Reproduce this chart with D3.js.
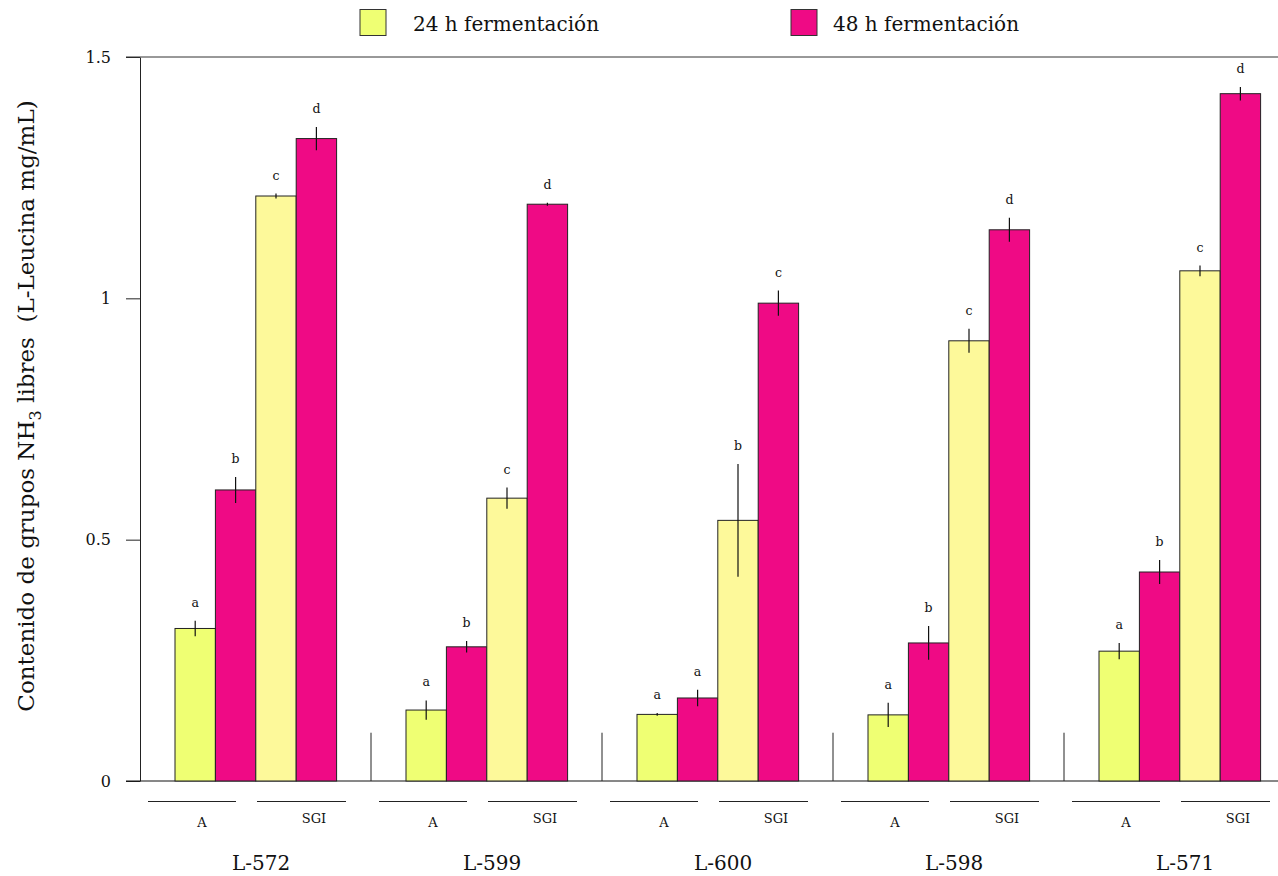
<!DOCTYPE html>
<html>
<head>
<meta charset="utf-8">
<script src="https://cdn.jsdelivr.net/npm/d3@7"></script>
<style>
  html, body { margin: 0; padding: 0; background: #fff; }
  svg { display: block; }
  text { font-family: "DejaVu Serif", "Liberation Serif", serif; fill: #111; }
</style>
</head>
<body>
<svg id="chart" width="1278" height="876"></svg>
<script>
// Strains (groups) and the two media (A, SGI) at 24 h and 48 h
const groups = ["L-572", "L-599", "L-600", "L-598", "L-571"];
const media = ["A", "SGI"];
const times = ["24 h fermentación", "48 h fermentación"];

// Free NH3 groups (L-leucine mg/mL), mean values
const a24 = [0.316, 0.147, 0.138, 0.137, 0.269];
const a48 = [0.603, 0.278, 0.172, 0.286, 0.433];
const sgi24 = [1.212, 0.586, 0.540, 0.912, 1.057];
const sgi48 = [1.331, 1.195, 0.990, 1.142, 1.424];

// Error half-widths
const a24Err = [0.016, 0.020, 0.003, 0.025, 0.017];
const a48Err = [0.027, 0.012, 0.017, 0.035, 0.025];
const sgi24Err = [0.005, 0.022, 0.117, 0.025, 0.011];
const sgi48Err = [0.024, 0.003, 0.026, 0.025, 0.014];

// Significance letters
const a24Sig = ["a", "a", "a", "a", "a"];
const a48Sig = ["b", "b", "a", "b", "b"];
const sgi24Sig = ["c", "c", "b", "c", "c"];
const sgi48Sig = ["d", "d", "c", "d", "d"];

// Y axis ticks
const yTicks = [0, 0.5, 1, 1.5];
const yTickLabels = ["0", "0.5", "1", "1.5"];

const colors = { A24: "#EFFF73", SGI24: "#FDF99A", M48: "#EF0A85" };

const series = [
  { key: "A-24", values: a24, err: a24Err, sig: a24Sig, fill: colors.A24 },
  { key: "A-48", values: a48, err: a48Err, sig: a48Sig, fill: colors.M48 },
  { key: "SGI-24", values: sgi24, err: sgi24Err, sig: sgi24Sig, fill: colors.SGI24 },
  { key: "SGI-48", values: sgi48, err: sgi48Err, sig: sgi48Sig, fill: colors.M48 }
];

const svg = d3.select("#chart");
const W = 1278;
const plotLeft = 140, plotTop = 57, plotBottom = 781;
const slot = 231;

const y = d3.scaleLinear().domain([0, 1.5]).range([plotBottom, plotTop]);
const x0 = d3.scaleBand().domain(groups).range([plotLeft, plotLeft + slot * groups.length]).padding(0);
const x1 = d3.scaleBand().domain(series.map(s => s.key)).range([35, 196.6]).padding(0);

// Axis
const yAxis = d3.axisLeft(y)
  .tickValues(yTicks)
  .tickFormat((d, i) => yTickLabels[i])
  .tickSize(14)
  .tickSizeOuter(0)
  .tickPadding(15);

const ax = svg.append("g").attr("transform", `translate(${plotLeft},0)`).call(yAxis);
ax.select(".domain").attr("stroke", "#222");
ax.selectAll(".tick line").attr("stroke", "#222");
ax.selectAll(".tick text")
  .style("font-family", "DejaVu Serif, serif")
  .style("font-size", "16px")
  .attr("fill", "#111");

// Frame lines (top and baseline) across the plot
svg.append("line").attr("x1", plotLeft - 14).attr("x2", W).attr("y1", y(1.5)).attr("y2", y(1.5)).attr("stroke", "#333");
svg.append("line").attr("x1", plotLeft - 14).attr("x2", W).attr("y1", y(0)).attr("y2", y(0)).attr("stroke", "#111");

// Short separators between strains
svg.append("g").selectAll("line")
  .data(groups.slice(1))
  .join("line")
  .attr("x1", d => x0(d)).attr("x2", d => x0(d))
  .attr("y1", y(0)).attr("y2", y(0.1))
  .attr("stroke", "#222");

// Bars
const gGroups = svg.append("g").selectAll("g")
  .data(groups)
  .join("g")
  .attr("transform", d => `translate(${x0(d)},0)`);

series.forEach(s => {
  gGroups.append("rect")
    .attr("x", x1(s.key))
    .attr("width", x1.bandwidth())
    .attr("y", (d, i) => y(s.values[i]))
    .attr("height", (d, i) => y(0) - y(s.values[i]))
    .attr("fill", s.fill)
    .attr("stroke", "#222")
    .attr("stroke-width", 1);
});

series.forEach(s => {
  const cx = x1(s.key) + x1.bandwidth() / 2;
  gGroups.append("line")
    .attr("x1", cx).attr("x2", cx)
    .attr("y1", (d, i) => y(s.values[i] + s.err[i]))
    .attr("y2", (d, i) => y(s.values[i] - s.err[i]))
    .attr("stroke", "#111")
    .attr("stroke-width", 1.2);
  gGroups.append("text")
    .attr("x", cx)
    .attr("y", (d, i) => y(s.values[i] + s.err[i]) - 14)
    .attr("text-anchor", "middle")
    .style("font-size", "12.5px")
    .text((d, i) => s.sig[i]);
});

// Medium brackets and labels under each strain
const medLine = { A: [8, 96], SGI: [117, 206] };
const medLabel = { A: [62, 827], SGI: [174, 823] };
media.forEach(m => {
  gGroups.append("line")
    .attr("x1", medLine[m][0]).attr("x2", medLine[m][1])
    .attr("y1", 801.5).attr("y2", 801.5)
    .attr("stroke", "#222");
  gGroups.append("text")
    .attr("x", medLabel[m][0]).attr("y", medLabel[m][1])
    .attr("text-anchor", "middle")
    .style("font-size", "13px")
    .text(m);
});

gGroups.append("text")
  .attr("x", 121).attr("y", 870)
  .attr("text-anchor", "middle")
  .style("font-size", "20px")
  .text(d => d);

// Legend
const legendPos = [{ x: 360, tx: 413 }, { x: 791, tx: 833 }];
const legendFill = [colors.A24, colors.M48];
const lg = svg.append("g").selectAll("g").data(times).join("g");
lg.append("rect")
  .attr("x", (d, i) => legendPos[i].x).attr("y", 9.5)
  .attr("width", 26).attr("height", 26)
  .attr("fill", (d, i) => legendFill[i])
  .attr("stroke", "#333");
lg.append("text")
  .attr("x", (d, i) => legendPos[i].tx).attr("y", 31)
  .style("font-size", "20px")
  .text(d => d);

// Y axis title with subscript
const title = svg.append("text")
  .attr("transform", "translate(34,406) rotate(-90)")
  .attr("text-anchor", "middle")
  .style("font-size", "23px")
  .style("white-space", "pre");
title.append("tspan").text("Contenido de grupos NH");
title.append("tspan").attr("dy", 7).style("font-size", "16px").text("3");
title.append("tspan").attr("dy", -7).text(" libres  (L-Leucina mg/mL)");
</script>
</body>
</html>
